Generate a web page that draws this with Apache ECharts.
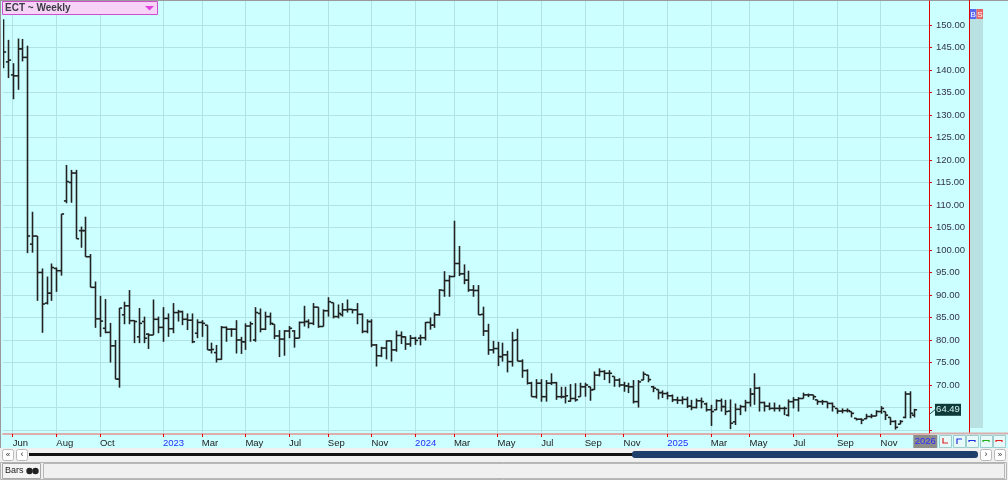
<!DOCTYPE html>
<html><head><meta charset="utf-8">
<script src="https://cdn.jsdelivr.net/npm/echarts@6/dist/echarts.min.js"></script>
<style>html,body{margin:0;padding:0;background:#ccffff;overflow:hidden}#c{width:1008px;height:480px}</style>
</head><body><div id="c"></div>
<script>
// ---- data (weekly OHLC, first week ending 2022-05-20) ----
const startDate = [2022, 4, 20];
const futureWeeks = 3;
const opens = [
145.2,141.8,138.9,138.7,144.7,142.8,101.3,103.1,95.0,88.2,
90.4,95.9,95.4,110.9,115.0,117.1,104.3,104.3,98.5,91.7,
84.7,82.6,81.7,78.7,71.3,85.6,87.6,84.3,80.7,84.1,
81.3,81.1,84.6,82.8,84.8,82.5,86.1,86.3,84.6,84.4,
81.5,83.9,83.3,77.8,77.2,75.7,82.8,82.4,82.4,80.0,
79.6,83.1,80.0,85.9,82.4,85.2,83.5,80.9,80.2,82.0,
82.0,80.4,83.9,84.1,83.7,87.3,83.0,86.5,88.3,85.2,
85.6,86.7,86.8,86.7,85.7,81.9,84.1,78.9,76.5,78.2,
79.8,77.8,81.0,80.7,79.1,80.4,80.4,80.5,83.9,83.3,
85.6,91.0,93.2,94.1,97.0,94.7,93.3,91.1,91.0,85.7,
82.0,77.8,78.1,76.3,76.7,75.2,80.0,75.3,73.2,70.4,
67.4,70.4,67.4,70.4,70.5,67.4,67.4,66.4,67.0,67.4,
69.6,69.6,69.0,72.2,73.0,72.6,71.9,71.1,70.0,69.8,
69.6,66.3,71.1,72.2,69.6,69.0,68.3,68.1,67.6,66.7,
66.6,66.8,65.3,65.0,66.5,65.8,64.5,64.5,66.5,65.2,
64.2,61.8,64.6,65.2,66.1,68.0,69.3,66.1,65.3,64.8,
64.8,64.8,63.3,66.3,66.7,67.0,67.8,67.8,66.7,66.3,
66.3,65.9,64.8,64.2,64.3,64.1,62.6,62.4,62.5,63.0,
63.1,64.1,64.1,62.8,61.9,61.3,62.8,68.0,63.3];
const highs = [
151.3,146.7,141.5,147.0,146.9,145.4,108.5,103.1,95.9,94.1,
97.0,96.1,108.0,118.9,117.8,117.8,105.2,107.4,99.1,93.0,
89.8,89.1,83.8,80.0,87.1,88.5,91.1,84.4,87.1,85.2,
81.5,89.0,85.2,87.3,85.9,88.2,86.7,86.5,85.9,85.9,
84.6,84.4,83.3,79.4,78.9,83.1,83.0,82.6,84.4,80.7,
83.7,84.1,87.3,87.0,86.3,86.1,83.5,82.2,82.2,83.1,
82.2,84.1,87.6,84.6,88.2,87.3,86.8,89.5,88.3,87.9,
88.2,89.0,86.8,88.2,85.9,84.6,84.6,79.1,78.5,79.9,
79.9,82.1,81.9,80.8,81.1,80.7,81.2,84.0,85.0,86.1,
91.3,95.3,94.4,106.5,100.9,96.8,95.4,92.2,92.2,87.4,
83.6,79.8,79.6,79.4,77.6,81.8,82.5,75.7,73.5,70.7,
71.3,71.3,71.1,72.6,70.7,69.6,69.6,70.2,70.4,70.5,
70.5,69.6,73.0,73.7,73.3,73.3,71.9,71.5,70.7,70.5,
71.1,71.1,73.0,72.2,69.8,69.0,68.8,68.5,67.9,67.4,
67.5,67.4,66.7,67.0,67.2,66.1,65.6,66.8,67.0,66.7,
66.8,65.9,65.6,66.7,69.3,72.6,69.6,66.3,66.1,66.1,
65.6,65.2,66.8,67.3,67.3,68.3,68.1,67.8,66.7,66.7,
66.3,66.1,64.8,64.8,64.8,64.1,62.6,62.6,63.6,63.6,
64.4,65.3,64.1,62.8,62.2,62.2,68.6,68.6,64.7];
const lows = [
140.4,138.2,133.5,135.6,141.9,99.3,99.4,88.7,81.6,87.9,
88.7,90.7,94.3,110.4,110.5,102.5,100.5,98.5,91.7,82.7,
80.7,81.5,75.0,71.3,69.4,83.5,83.5,79.3,79.3,79.3,
78.0,81.1,81.5,79.6,80.7,81.5,84.1,83.3,82.2,79.3,
80.4,80.7,77.8,77.0,75.0,75.6,79.6,80.7,77.0,76.9,
77.8,79.6,79.6,81.7,82.2,83.3,80.2,76.2,76.5,80.4,
78.3,80.4,83.0,82.6,83.3,82.7,83.0,85.2,84.8,84.8,
85.2,86.1,85.9,83.5,81.5,81.5,78.4,74.1,76.2,75.7,
75.2,77.4,79.1,77.8,78.5,78.9,78.8,79.9,82.3,82.7,
85.4,89.6,89.6,94.0,94.2,92.4,90.7,89.6,85.6,80.9,
76.7,77.0,74.2,75.2,72.8,74.1,75.3,71.6,70.1,67.4,
67.0,66.3,66.3,70.0,66.7,67.0,65.9,66.3,66.3,67.4,
67.4,66.5,68.9,71.9,71.1,70.4,69.6,69.5,68.5,68.2,
65.9,65.0,71.1,70.6,68.4,66.8,67.1,66.8,66.2,65.8,
65.7,64.9,64.4,64.8,64.8,64.1,60.9,64.4,64.1,63.3,
60.2,61.1,63.3,64.1,65.2,65.6,64.1,64.1,64.4,64.1,
64.1,63.3,63.0,64.8,64.1,67.0,67.3,66.7,65.6,65.6,
64.8,64.1,63.6,63.7,63.9,62.8,62.1,61.3,62.4,62.6,
63.1,63.6,62.2,61.1,60.1,61.3,62.6,62.6,62.8];
const closes = [
144.0,142.2,138.7,144.7,142.8,103.1,103.1,95.0,88.0,90.4,
96.1,95.4,108.0,115.2,117.1,102.5,104.3,98.5,91.7,84.7,
84.2,81.7,78.7,71.3,87.1,87.6,84.3,84.1,83.7,80.4,
81.1,84.6,82.8,84.8,82.5,86.1,86.3,84.6,84.4,79.6,
83.9,83.7,77.8,77.9,75.7,82.8,82.4,82.4,80.0,79.6,
83.1,83.6,86.1,82.4,85.2,83.7,80.9,80.2,82.0,82.6,
80.4,83.9,84.1,83.7,87.3,83.0,86.5,88.5,85.2,85.9,
86.7,86.8,86.7,85.7,81.9,84.1,78.9,76.5,78.2,79.8,
77.8,81.0,80.7,79.1,80.4,79.9,80.5,83.9,83.3,85.6,
91.1,93.2,94.1,97.0,94.7,93.3,91.1,91.0,85.6,82.0,
77.8,78.1,76.3,76.7,75.2,79.9,75.3,73.2,70.4,67.4,
70.4,67.4,70.4,70.5,67.4,67.4,67.6,67.0,66.7,69.6,
70.0,68.9,72.2,73.0,72.6,72.6,71.1,70.0,69.8,69.6,
66.3,70.7,72.4,71.2,69.3,68.3,68.1,67.6,66.7,66.6,
66.8,65.3,65.0,66.5,66.3,64.5,64.1,66.5,65.2,64.1,
61.5,64.6,65.2,66.1,68.0,69.3,66.1,65.3,64.8,64.8,
64.8,64.8,66.3,66.7,67.0,67.8,67.8,67.4,66.3,66.3,
65.9,65.2,64.2,64.3,64.3,63.7,62.4,62.2,63.0,63.1,
64.1,64.8,63.3,61.9,60.6,61.9,68.0,63.7,64.49];
const labelMonths = ['2022-06','2022-08','2022-10','2023-01','2023-03','2023-05','2023-07','2023-09','2023-11',
  '2024-01','2024-03','2024-05','2024-07','2024-09','2024-11','2025-01','2025-03','2025-05','2025-07','2025-09','2025-11'];
const monthNames = ['Jan','Feb','Mar','Apr','May','Jun','Jul','Aug','Sep','Oct','Nov','Dec'];
const yTickValues = [60,65,70,75,80,85,90,95,100,105,110,115,120,125,130,135,140,145,150];
const yLabelValues = [70,75,80,85,90,95,100,105,110,115,120,125,130,135,140,145,150];
const currentYearLabel = '2026';
const lastPrice = 64.49;
const title = 'ECT ~ Weekly';

// ---- build ----
const dates = [];
const t0 = Date.UTC(startDate[0], startDate[1], startDate[2]);
for (let i = 0; i < opens.length + futureWeeks; i++) dates.push(new Date(t0 + i * 7 * 864e5).toISOString().slice(0, 10));
const labelIdx = new Set();
labelMonths.forEach(m => { const k = dates.findIndex(d => d.slice(0, 7) === m); if (k >= 0) labelIdx.add(k); });
const ohlc = opens.map((o, i) => [i, o, highs[i], lows[i], closes[i]]);
const showIdx = (i) => labelIdx.has(i);
const FONT = 'Liberation Sans';

const chart = echarts.init(document.getElementById('c'));
chart.setOption({
  animation: false,
  backgroundColor: '#ccffff',
  grid: { left: 3, right: 79, top: 1, bottom: 46 },
  xAxis: {
    type: 'category', data: dates, boundaryGap: false,
    axisLine: { lineStyle: { color: '#dcaeae', width: 2 } },
    axisTick: { interval: showIdx, length: 3, lineStyle: { color: '#e00000' } },
    splitLine: { show: true, interval: showIdx, lineStyle: { color: '#b2e2e4', width: 1 } },
    axisLabel: {
      interval: showIdx, align: 'left', margin: 4, fontFamily: FONT, fontSize: 9.5, color: '#1a1a1a',
      formatter: (v) => { const m = +v.slice(5, 7); return m === 1 ? '{y|' + v.slice(0, 4) + '}' : monthNames[m - 1]; },
      rich: { y: { color: '#2a2aff', fontFamily: FONT, fontSize: 9.5 } }
    }
  },
  yAxis: {
    type: 'value', position: 'right', min: 59.11, max: 155.33, splitNumber: 19,
    axisLine: { show: true, lineStyle: { color: '#e00000', width: 1 } },
    axisTick: { show: true, length: 3, customValues: yTickValues, lineStyle: { color: '#e00000' } },
    splitLine: { lineStyle: { color: '#b2e2e4', width: 1 } },
    axisLabel: {
      margin: 7, fontFamily: FONT, fontSize: 9.5, color: '#33334a', customValues: yLabelValues,
      formatter: (v) => v.toFixed(2)
    }
  },
  series: [{
    type: 'custom', data: ohlc, encode: { x: 0, y: [1, 2, 3, 4] }, clip: true,
    renderItem: (params, api) => {
      const i = api.value(0);
      const pO = api.coord([i, api.value(1)]), pH = api.coord([i, api.value(2)]);
      const pL = api.coord([i, api.value(3)]), pC = api.coord([i, api.value(4)]);
      const x = Math.round(pH[0]) + 0.5, t = 2.6;
      const st = { stroke: '#222', lineWidth: 1.6 };
      return { type: 'group', children: [
        { type: 'line', shape: { x1: x, y1: pH[1], x2: x, y2: pL[1] }, style: st },
        { type: 'line', shape: { x1: x - t, y1: pO[1], x2: x, y2: pO[1] }, style: st },
        { type: 'line', shape: { x1: x, y1: pC[1], x2: x + t, y2: pC[1] }, style: st }
      ] };
    }
  }]
});

// ---- decorations ----
const py = chart.convertToPixel({ yAxisIndex: 0 }, lastPrice);
const px26 = chart.convertToPixel({ xAxisIndex: 0 }, opens.length);
const btn = (x, y, w, h, extra) => ({ type: 'rect', shape: { x, y, width: w, height: h, r: 2 }, style: { fill: '#ffffff', stroke: '#b8b8b8', lineWidth: 1 }, ...extra });
const g = [];
// outer border
g.push({ type: 'line', shape: { x1: 0, y1: 0.5, x2: 1008, y2: 0.5 }, style: { stroke: '#9a9a9a', lineWidth: 1 } });
g.push({ type: 'line', shape: { x1: 0.5, y1: 0, x2: 0.5, y2: 448 }, style: { stroke: '#9a9a9a', lineWidth: 1 } });
// title box
g.push({ type: 'rect', shape: { x: 2.5, y: 1.5, width: 155, height: 13 }, style: { fill: '#f7d4f7', stroke: '#cc4fcc', lineWidth: 1 } });
g.push({ type: 'text', x: 5, y: 8.5, style: { text: title, fontFamily: FONT, fontSize: 10, fontWeight: 'bold', fill: '#3a3a44', verticalAlign: 'middle' } });
g.push({ type: 'polygon', shape: { points: [[145, 6], [154, 6], [149.5, 10.5]] }, style: { fill: '#e040e0' } });
// right panel
g.push({ type: 'line', shape: { x1: 969.5, y1: 0, x2: 969.5, y2: 433 }, style: { stroke: '#e00000', lineWidth: 1 } });
g.push({ type: 'rect', shape: { x: 970, y: 19, width: 13, height: 409 }, style: { fill: '#b9e1e1' } });
g.push({ type: 'rect', shape: { x: 970, y: 9, width: 6.5, height: 10 }, style: { fill: '#5568f0' } });
g.push({ type: 'rect', shape: { x: 976.5, y: 9, width: 6.5, height: 10 }, style: { fill: '#e86868' } });
g.push({ type: 'text', x: 973.2, y: 14.5, style: { text: 'B', fontFamily: FONT, fontSize: 8, fill: '#fff', align: 'center', verticalAlign: 'middle' } });
g.push({ type: 'text', x: 979.8, y: 14.5, style: { text: 'S', fontFamily: FONT, fontSize: 8, fill: '#fff', align: 'center', verticalAlign: 'middle' } });
g.push({ type: 'line', shape: { x1: 929, y1: 433.5, x2: 1008, y2: 433.5 }, style: { stroke: '#dcaeae', lineWidth: 2 } });
// price tag
g.push({ type: 'line', shape: { x1: 930, y1: py + 4, x2: 935, y2: py }, style: { stroke: '#335555', lineWidth: 1 } });
g.push({ type: 'rect', shape: { x: 935, y: py - 6, width: 26, height: 12 }, style: { fill: '#0f3a3a' } });
g.push({ type: 'text', x: 948, y: py, style: { text: lastPrice.toFixed(2), fontFamily: FONT, fontSize: 9.5, fill: '#d6f4f4', align: 'center', verticalAlign: 'middle' } });
// current year box
g.push({ type: 'rect', shape: { x: px26 - 6, y: 435, width: 24, height: 13 }, style: { fill: '#8c8c8c' } });
g.push({ type: 'text', x: px26 + 6, y: 441.5, style: { text: currentYearLabel, fontFamily: FONT, fontSize: 9.5, fill: '#2a2aff', align: 'center', verticalAlign: 'middle' } });
// small buttons row
const bcol = ['#e02020', '#2030e0', '#2030e0', '#20b020', '#e02020'];
[939, 953, 966, 980, 993].forEach((bx, k) => {
  g.push({ type: 'rect', shape: { x: bx + 0.5, y: 435.5, width: 12, height: 12 }, style: { fill: '#e6fafa', stroke: '#9ccccc', lineWidth: 1 } });
  g.push({ type: 'polyline', shape: { points: k === 0 ? [[bx + 4, 438], [bx + 4, 443], [bx + 9, 443]] : (k === 1 ? [[bx + 4, 444], [bx + 4, 439], [bx + 9, 439]] : [[bx + 3, 442], [bx + 3, 440.5], [bx + 9, 440.5], [bx + 9, 442]]) }, style: { stroke: bcol[k], lineWidth: 1.2, fill: null } });
});
// scrollbar
g.push({ type: 'rect', shape: { x: 0, y: 448, width: 1008, height: 14 }, style: { fill: '#f0f0f0' } });
g.push(btn(2.5, 449.5, 11, 11)); g.push(btn(16.5, 449.5, 11, 11));
g.push({ type: 'text', x: 8, y: 455, style: { text: '«', fontFamily: FONT, fontSize: 8, fill: '#333', align: 'center', verticalAlign: 'middle' } });
g.push({ type: 'text', x: 22, y: 455, style: { text: '‹', fontFamily: FONT, fontSize: 9, fill: '#333', align: 'center', verticalAlign: 'middle' } });
g.push({ type: 'rect', shape: { x: 29, y: 453, width: 604, height: 3 }, style: { fill: '#111' } });
g.push({ type: 'rect', shape: { x: 632, y: 451, width: 346, height: 7, r: 3 }, style: { fill: '#1f3e6b' } });
g.push(btn(980.5, 449.5, 11, 11)); g.push(btn(994.5, 449.5, 11, 11));
g.push({ type: 'text', x: 986, y: 455, style: { text: '›', fontFamily: FONT, fontSize: 9, fill: '#333', align: 'center', verticalAlign: 'middle' } });
g.push({ type: 'text', x: 1000, y: 455, style: { text: '»', fontFamily: FONT, fontSize: 8, fill: '#333', align: 'center', verticalAlign: 'middle' } });
// status bar
g.push({ type: 'rect', shape: { x: 0, y: 462, width: 1008, height: 18 }, style: { fill: '#f0f0f0' } });
g.push({ type: 'rect', shape: { x: 0.5, y: 462.5, width: 1006, height: 17 }, style: { fill: null, stroke: '#b4b4b4', lineWidth: 1 } });
g.push({ type: 'rect', shape: { x: 2.5, y: 463.5, width: 38, height: 15 }, style: { fill: '#f4f4f4', stroke: '#a8a8a8', lineWidth: 1 } });
g.push({ type: 'rect', shape: { x: 43.5, y: 463.5, width: 961, height: 15 }, style: { fill: '#f0f0f0', stroke: '#b8b8b8', lineWidth: 1 } });
g.push({ type: 'text', x: 5, y: 471, style: { text: 'Bars', fontFamily: FONT, fontSize: 9, fill: '#222', verticalAlign: 'middle' } });
g.push({ type: 'circle', shape: { cx: 29.5, cy: 471, r: 3.2 }, style: { fill: '#222' } });
g.push({ type: 'circle', shape: { cx: 35.5, cy: 471, r: 3.2 }, style: { fill: '#222' } });
chart.setOption({ graphic: { elements: g } });
</script></body></html>
